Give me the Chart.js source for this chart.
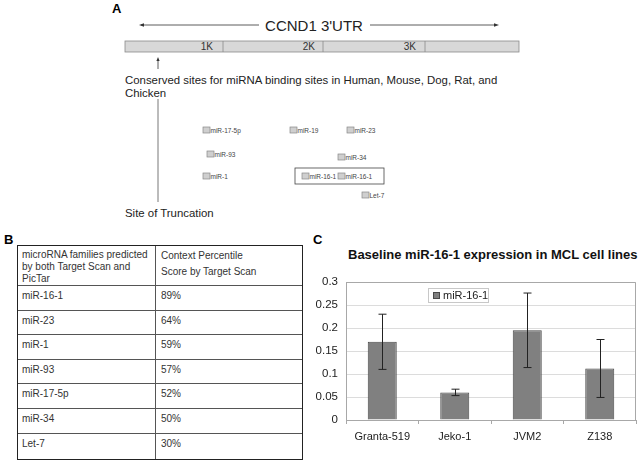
<!DOCTYPE html>
<html>
<head>
<meta charset="utf-8">
<script src="https://cdn.jsdelivr.net/npm/chart.js@4"></script>
<style>
    body { margin: 0; width: 640px; height: 463px; background: #fff; overflow: hidden; position: relative;
           font-family: 'Liberation Sans', Arial, sans-serif; color: #222; }
    .tag { position: absolute; font-weight: bold; font-size: 13px; color: #000; }
    #panel-a { position: absolute; left: 0; top: 0; }
    #mirna-table { position: absolute; left: 17px; top: 245px; width: 286px; height: 215px; box-sizing: border-box;
                   border: 1.5px solid #222; font-size: 10px; color: #333; }
    .row { position: absolute; left: 0; right: 0; border-top: 1px solid #555; }
    .cell { position: absolute; top: 0; white-space: nowrap; }
    .c1 { left: 4px; }
    .c2 { left: 143px; }
    #col-line { position: absolute; top: 0; bottom: 0; left: 137px; border-left: 1px solid #555; }
    #chart-wrap { position: absolute; left: 310px; top: 230px; width: 330px; height: 233px; }
    #chart-title { position: absolute; left: 348px; top: 247px; font-weight: bold; font-size: 13px; color: #111; white-space: nowrap; }
</style>
</head>
<body>
<div class="tag" style="left:112px; top:1px;">A</div>
<div class="tag" style="left:4px; top:232px;">B</div>
<div class="tag" style="left:313px; top:232px;">C</div>

<svg id="panel-a" width="640" height="230" font-family="Liberation Sans, Arial, sans-serif">
    <!-- 3'UTR span arrow -->
    <line x1="141" y1="25" x2="259" y2="25" stroke="#333" stroke-width="0.8"/>
    <line x1="370" y1="25" x2="496" y2="25" stroke="#333" stroke-width="0.8"/>
    <polygon points="139,25 144,23.3 144,26.7" fill="#333"/>
    <polygon points="499,25 494,23.3 494,26.7" fill="#333"/>
    <text x="314" y="30.5" font-size="15" text-anchor="middle" fill="#222">CCND1 3'UTR</text>
    <!-- UTR bar -->
    <rect x="125" y="41" width="394" height="11" fill="#d8d8d8" stroke="#8a8a8a" stroke-width="0.8"/>
    <line x1="223" y1="41" x2="223" y2="52" stroke="#8a8a8a" stroke-width="0.8"/>
    <line x1="323" y1="41" x2="323" y2="52" stroke="#8a8a8a" stroke-width="0.8"/>
    <line x1="425" y1="41" x2="425" y2="52" stroke="#8a8a8a" stroke-width="0.8"/>
    <text x="213" y="50" font-size="10" text-anchor="end" fill="#333">1K</text>
    <text x="315" y="50" font-size="10" text-anchor="end" fill="#333">2K</text>
    <text x="416" y="50" font-size="10" text-anchor="end" fill="#333">3K</text>
    <!-- conserved sites pointer -->
    <line x1="158" y1="60" x2="158" y2="69" stroke="#333" stroke-width="0.8"/>
    <polygon points="158,57 156.4,61 159.6,61" fill="#333"/>
    <text x="125" y="84" font-size="11.4" fill="#222">Conserved sites for miRNA binding sites in Human, Mouse, Dog, Rat, and</text>
    <text x="125" y="97" font-size="11.4" fill="#222">Chicken</text>
    <line x1="158" y1="99" x2="158" y2="202" stroke="#555" stroke-width="0.8"/>
    <text x="125" y="217" font-size="11.4" fill="#222">Site of Truncation</text>
    <!-- binding sites -->
    <rect x="295" y="168" width="89" height="16" fill="none" stroke="#444" stroke-width="0.8"/>
    <g id="sites" font-size="6.5" fill="#444"></g>
</svg>

<div id="mirna-table"><div id="col-line"></div></div>

<div id="chart-title">Baseline miR-16-1 expression in MCL cell lines</div>
<div id="chart-wrap"><canvas id="expr-chart" width="330" height="233"></canvas></div>

<script>
// panel A binding sites
const siteNames = ['miR-17-5p', 'miR-19', 'miR-23', 'miR-93', 'miR-34', 'miR-1', 'miR-16-1', 'miR-16-1', 'Let-7'];
const siteX = [203, 290, 347, 207, 338, 203, 302, 338, 362];
const siteY = [127, 127, 127, 151, 154, 173, 173, 173, 192];

// panel B table
const headerCol1 = ['microRNA families predicted', 'by both Target Scan and', 'PicTar'];
const headerCol2 = ['Context Percentile', 'Score by Target Scan'];
const families = ['miR-16-1', 'miR-23', 'miR-1', 'miR-93', 'miR-17-5p', 'miR-34', 'Let-7'];
const percentiles = ['89%', '64%', '59%', '57%', '52%', '50%', '30%'];

// panel C chart
const cellLines = ['Granta-519', 'Jeko-1', 'JVM2', 'Z138'];
const expression = [0.17, 0.06, 0.195, 0.112];
const expressionErr = [0.06, 0.007, 0.081, 0.063];
const yTicks = [0, 0.05, 0.1, 0.15, 0.2, 0.25, 0.3];

function drawSites() {
    const g = document.getElementById('sites');
    const ns = 'http://www.w3.org/2000/svg';
    siteNames.forEach(function(name, i) {
        const r = document.createElementNS(ns, 'rect');
        r.setAttribute('x', siteX[i]);
        r.setAttribute('y', siteY[i]);
        r.setAttribute('width', 7);
        r.setAttribute('height', 6);
        r.setAttribute('fill', '#cfcfcf');
        r.setAttribute('stroke', '#888');
        r.setAttribute('stroke-width', '0.7');
        g.appendChild(r);
        const t = document.createElementNS(ns, 'text');
        t.setAttribute('x', siteX[i] + 7.5);
        t.setAttribute('y', siteY[i] + 5.5);
        t.textContent = name;
        g.appendChild(t);
    });
}

function addCell(parent, cls, top, lineHeight, lines) {
    const d = document.createElement('div');
    d.className = 'cell ' + cls;
    d.style.top = top + 'px';
    d.style.lineHeight = lineHeight + 'px';
    d.innerHTML = lines.join('<br>');
    parent.appendChild(d);
}

function buildTable() {
    const tbl = document.getElementById('mirna-table');
    const headH = 39, rowH = 24.6;
    addCell(tbl, 'c1', 3, 12, headerCol1);
    addCell(tbl, 'c2', 2, 16, headerCol2);
    families.forEach(function(f, i) {
        const row = document.createElement('div');
        row.className = 'row';
        row.style.top = (headH + i * rowH) + 'px';
        row.style.height = rowH + 'px';
        tbl.appendChild(row);
        addCell(row, 'c1', 3, 13, [f]);
        addCell(row, 'c2', 3, 13, [percentiles[i]]);
    });
}

const errorBars = {
    id: 'errorBars',
    afterDatasetsDraw(chart) {
        const ctx = chart.ctx;
        const y = chart.scales.y;
        const meta = chart.getDatasetMeta(0);
        ctx.save();
        ctx.strokeStyle = '#222';
        ctx.lineWidth = 1;
        meta.data.forEach(function(bar, i) {
            const x = Math.round(bar.x) + 0.5;
            const top = y.getPixelForValue(expression[i] + expressionErr[i]);
            const bot = y.getPixelForValue(expression[i] - expressionErr[i]);
            ctx.beginPath();
            ctx.moveTo(x, top); ctx.lineTo(x, bot);
            ctx.moveTo(x - 4, top); ctx.lineTo(x + 4, top);
            ctx.moveTo(x - 4, bot); ctx.lineTo(x + 4, bot);
            ctx.stroke();
        });
        ctx.restore();
    }
};

const plotFrame = {
    id: 'plotFrame',
    afterDraw(chart) {
        const a = chart.chartArea;
        const ctx = chart.ctx;
        ctx.save();
        ctx.strokeStyle = '#a8a8a8';
        ctx.lineWidth = 1;
        ctx.beginPath();
        ctx.moveTo(Math.round(a.left) + 0.5, Math.round(a.top) + 0.5);
        ctx.lineTo(Math.round(a.right) - 0.5, Math.round(a.top) + 0.5);
        ctx.lineTo(Math.round(a.right) - 0.5, Math.round(a.bottom));
        ctx.stroke();
        // legend box inside the plot
        const ds = chart.data.datasets[0];
        const lx = a.left + 82, ly = a.top + 6;
        ctx.fillStyle = '#fff';
        ctx.fillRect(lx, ly, 60, 14);
        ctx.strokeStyle = '#c8c8c8';
        ctx.strokeRect(lx + 0.5, ly + 0.5, 60, 14);
        ctx.fillStyle = ds.backgroundColor;
        ctx.fillRect(lx + 5, ly + 4, 7, 7);
        ctx.strokeStyle = ds.borderColor;
        ctx.strokeRect(lx + 5.5, ly + 4.5, 6, 6);
        ctx.fillStyle = '#222';
        ctx.font = '11px "Liberation Sans", Arial, sans-serif';
        ctx.textBaseline = 'middle';
        ctx.fillText(ds.label, lx + 15, ly + 8);
        ctx.restore();
    }
};

function initChart() {
    new Chart(document.getElementById('expr-chart'), {
        type: 'bar',
        data: {
            labels: cellLines,
            datasets: [{
                label: 'miR-16-1',
                data: expression,
                backgroundColor: '#808080',
                borderColor: '#4a4a4a',
                borderWidth: 1,
                categoryPercentage: 1,
                barPercentage: 0.4,
            }]
        },
        options: {
            responsive: false,
            devicePixelRatio: 1,
            animation: false,
            layout: { padding: { top: 52, right: 4, left: 0, bottom: 0 } },
            plugins: { legend: { display: false }, tooltip: { enabled: false }, title: { display: false } },
            scales: {
                y: {
                    min: 0, max: 0.3,
                    afterBuildTicks: function(scale) { scale.ticks = yTicks.map(v => ({ value: v })); },
                    afterFit: function(scale) { scale.width = 36; },
                    grid: { color: '#dcdcdc', drawTicks: false },
                    border: { color: '#a8a8a8' },
                    ticks: {
                        color: '#222', padding: 8,
                        font: { family: '"Liberation Sans", Arial, sans-serif', size: 11.5 },
                        callback: v => String(+v.toFixed(2))
                    }
                },
                x: {
                    afterFit: function(scale) { scale.height = 43; },
                    grid: { drawOnChartArea: false, drawTicks: true, tickLength: 4, color: '#a8a8a8' },
                    border: { color: '#a8a8a8' },
                    ticks: {
                        color: '#222', padding: 6,
                        font: { family: '"Liberation Sans", Arial, sans-serif', size: 11 }
                    }
                }
            }
        },
        plugins: [errorBars, plotFrame]
    });
}

document.addEventListener('DOMContentLoaded', function() {
    drawSites();
    buildTable();
    initChart();
});
</script>
</body>
</html>
